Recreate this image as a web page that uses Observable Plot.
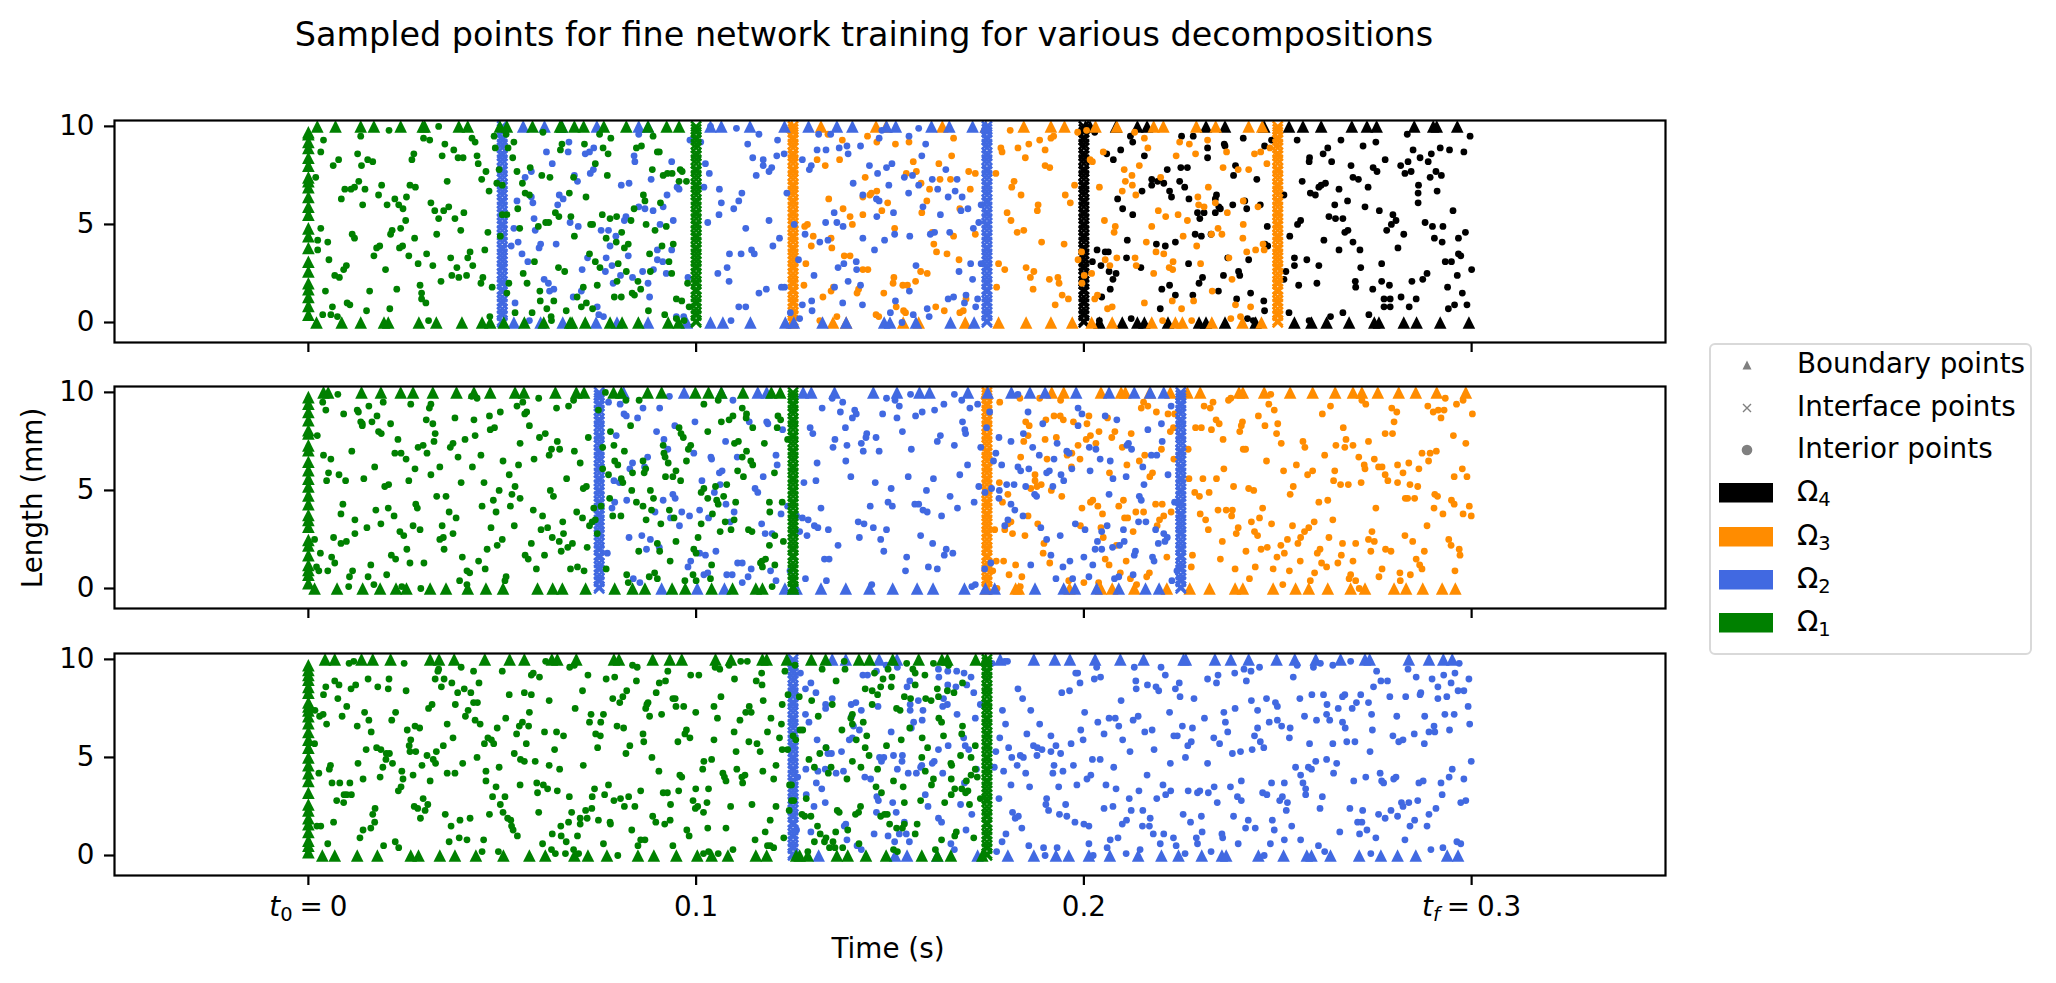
<!DOCTYPE html>
<html><head><meta charset="utf-8">
<script src="https://cdn.jsdelivr.net/npm/d3@7"></script>
<script src="https://cdn.jsdelivr.net/npm/@observablehq/plot@0.6"></script>
<style>
html,body{margin:0;padding:0;background:#fff}
#fig{position:relative;width:2056px;height:983px;font-family:"DejaVu Sans";overflow:hidden;color:#000}
#fig svg.panel{position:absolute;left:0;overflow:visible;background:transparent}
.lbl{position:absolute;white-space:nowrap;font-size:27.8px;line-height:1}
#legend{position:absolute;left:1709px;top:343px;width:319px;height:308px;border:2.2px solid #d9d9d9;border-radius:6px;box-sizing:content-box;background:#fff}
sub{font-size:70%;vertical-align:baseline;position:relative;top:.28em}
</style></head><body><div id="fig"></div>
<script>
// times are in milliseconds, lengths in mm; interior arrays are flat t,y,t,y lists
const colors={black:"black",orange:"darkorange",blue:"royalblue",green:"green"};
const p1GreenLeft=[9.7,9.6,9.2,8.9,8.4,8.0,7.4,7.2,6.9,6.4,5.9,5.5,4.8,4.4,3.8,3.1,2.6,2.0,1.7,1.3,.85,.4];
const p1GreenTop=[2.3,7,13.5,16.9,23.8,29.5,30,38.8,41.1,49.4,51.2,57.8,64.9,65.4,68.6,71,76.2,82,87.6,92.4,95.6];
const p1GreenBottom=[2.1,8.6,13.5,19.5,20.6,28.5,33,39.6,44.8,46.9,50.4,55.7,60.7,67.5,68,71.4,77.8,80.9,85.1,92.8,95.5];
const p1BlueTop=[55.4,60.9,65.4,74.4,85.2,87.6,103.7,106.5,113.9,122.8,129,136.3,140.3,149.1,151.5,160.7,165.3,171.3,174.7];
const p1BlueBottom=[53,59.9,65.6,74.2,79.6,87.6,97.6,103.7,106.9,114,123,125.2,132.6,138.7,148.5,150,156.7,165.6,171.7];
const p1OrangeTop=[124.7,132.2,146.4,149,163.5,174.7,184.5,191.5,195,203,208.5,218,220.5,229,234,242.5,246];
const p1OrangeBottom=[124.7,135.3,138.7,153.4,157.4,169.4,178,185.1,191.5,197,202,207.3,217.5,223.6,225.4,233,240.9,245.8];
const p1BlackTop=[200.4,201.6,208.3,213.8,216.3,231.5,236.4,246.5,252.9,256.5,261.2,269.1,273,275.5,285.2,290.1,291,296.3];
const p1BlackBottom=[204,209.9,213.8,215.6,221.7,229.7,231.5,236.4,244.3,254.3,258.7,262.6,268.4,274.9,276.1,282.5,285.8,291.9,299.3];
const p1Green=[3.9,9.3,3.2,8.7,1.9,7.4,7.8,8.3,6.4,8,13.5,9.5,12.7,8.6,15.3,8.3,16.6,8.2,13.7,8,20.8,9.8,33.6,10,29.7,9.4,31.3,9.3,35.2,9.1,37.5,8.8,34.5,8.5,27.2,8.6,26.7,8.3,38.6,8.4,39.9,8.4,42.2,9.4,43,9.2,43.5,8.5,43.8,8.1,47.9,9.5,48.2,8.9,45.8,7.7,44.7,7.3,49.2,7.8,48.6,7.1,46.6,6.7,50,7,35.8,7.2,26.2,7,27.6,6.9,18.9,7,13,7.2,11.9,6.9,11,6.8,9.4,6.8,14.6,6.8,8.5,6.3,18.1,6.5,25.3,6.4,22.3,6.3,20.3,6,23.3,6,24.4,5.8,14,6,31.6,6.1,32.6,5.7,34.9,5.7,36.2,5.9,33.6,5.3,37.8,5.3,40.1,5.6,25.1,5.2,23.8,4.8,39.3,4.7,21.6,4.7,21.2,4.5,33.1,4.5,46.3,4.6,49.5,4.4,50,5.5,51.2,5.5,3.2,4.8,2.4,4.2,5,4.1,2.4,3.7,11.3,4.5,11.9,4.3,27.4,4.3,18.4,3.9,17.6,3.8,24.3,3.9,23.5,3.8,16.9,3.4,25.9,3.4,30.5,3.5,28.3,3,32.1,2.9,36.7,3.3,41.7,3.6,41.1,3.3,45.5,3.7,42.4,2.9,38.3,2.8,5.3,3.2,9.8,2.9,9.1,2.7,19.9,2.7,6.8,2.4,8,2.3,37,2.4,38.8,2.3,40.8,2.4,34.2,2.1,45,2.3,44.5,2,47.4,1.8,28.8,1.9,29.2,1.5,29.2,1.2,30.3,1,22.8,1.7,15.8,1.6,4.4,1.6,51.2,1.5,6.2,.8,10,1,10.7,.9,21,.7,15,.6,3.7,.4,5.8,.4,7.5,.3,31,.1,46.8,.3,
53,9.2,52.7,8.4,53.8,7.7,57.2,7.9,55.2,7.1,60.2,7.5,62.3,7.4,60.5,9.7,65.4,9.1,65,8.8,71.2,9.1,76,8.9,77.3,8.6,74,8.1,68.4,7.4,77.1,7.5,84.6,8.9,85.9,9,78,9.4,88.9,9.5,90,8.7,90.5,8.7,88.7,7.8,91.5,7.5,92.6,7.6,93.8,7.6,95.9,7.8,96.4,7.7,95.6,7.2,97.5,7.2,75.1,9.6,55.9,6.6,57,6.5,67.3,6.6,71.6,6.4,86.4,6.5,86.8,6.2,84,5.8,90.8,6.1,54,5.8,63.7,5.6,64.6,5.4,67.7,5.4,75.8,5.5,77.8,5.3,79.5,5.4,83.2,5.2,54.5,4.8,59.3,4.9,61.2,5.1,62,5.1,72.8,5,73.3,5,87.1,5,89.4,4.7,92.3,4.9,68.6,4.4,80.8,4.6,76.8,4.3,79.4,4.1,82.5,4,81.5,3.8,94.1,4,91.2,3.9,88,3.5,72.5,3.5,74,3.1,58.3,3.1,64.5,2.8,66.1,2.6,75.2,2.8,79.9,3,82,2.6,93,3.1,88.2,2.6,93.7,2.5,55.4,2.5,56.4,2,79.6,2.1,85,2.1,97.8,2,51.7,2,74.5,1.9,70.9,1.8,85.7,1.7,59.7,1.6,69.3,1.3,78.9,1.3,80.7,1.3,83.5,1.5,84.1,1.4,63.3,1.1,59.8,1.1,94.9,1.2,96.3,1.1,98.2,.8,71.7,1,70.4,.8,73.3,.7,61.5,.7,66.5,.6,53.3,.5,57.7,.5,87.7,.6,91.9,.4,62.6,.3,62.7,.1,94.9,.2,96.9,.1,51,9.6,51.5,8.9];
const p1Blue=[67.2,9.2,61.4,8.7,67,8.7,62.9,8.1,71.4,8.6,72.5,8.7,73.6,8.9,85.2,9.6,84,8.5,84.2,8.2,93.7,8.2,57.5,7.7,55.9,7.4,73.5,7.8,72.7,7.6,69.4,7.2,68.6,7.5,80.7,7,82.7,7.1,88.4,7.3,95.1,6.9,95.6,6.8,92.5,6.5,57.5,6.4,53.8,6.2,64.7,6.5,65.7,6.3,64.3,6,57.9,6.1,85.2,5.9,86.8,5.8,88.9,5.7,91.5,5.9,58.2,5.3,67.5,5.1,69.6,4.9,81.9,5.4,81.5,5.2,94.1,5.2,90.7,5,53,4.8,58.5,4.7,75.5,4.7,77.4,4.7,79.3,4.4,54.1,4.1,52.3,3.9,63.9,4,59.9,4,59.5,3.8,55.1,3.5,77.8,3.9,93.7,3.7,90,3.7,82.5,3.4,72,3.3,76.8,3.3,90,3.2,91.4,3.1,56.6,3.1,78.3,2.9,70.6,2.7,76.6,2.6,89,2.7,86.2,2.6,92.3,2.5,97.9,2.3,80.5,2.4,83.6,2.3,60.8,2.2,61.9,2,78.6,2,87.6,2,62.2,1.6,63.3,1.7,70.4,1.6,68.3,1.3,88,1.3,53.3,1,74.5,.8,74.9,.4,76.1,.3,57,.1,94.9,.3,96.8,.3,103.7,10,110.4,9.9,98.4,9.3,101.2,9.2,102.4,8.1,103.4,7.6,102,6.9,106,6.8,106.5,6.1,109.7,5.8,111,6.2,105.9,5.5,103,5.1,108.6,3.5,108,2.8,105.6,2.5,108.5,2.1,111,.8,109,.1,
116.2,9.6,113.3,9.1,121,9.3,114.6,8.4,117.3,8.3,117.3,8,120.8,8.5,122.7,8.6,119.5,7.9,118.8,7.7,115.5,7.5,111.8,6.6,118.8,5.2,112.8,4.8,121.5,4.3,119.8,3.9,114.3,3.7,115,3.5,111.6,3.5,122.8,1.8,122,1.8,118.1,1.7,116.2,1.5,112.8,.8,123.4,6.6,125.3,5,128.1,4.5,126.4,3.2,130.4,2.4,127.4,.9,129.8,1.1,129.9,.6,126.7,.2,124.3,.5,131.6,9.6,134.7,9.6,127.4,8.3,131.2,8.8,133.5,8.8,136.9,8.9,138.9,9,139.2,8.6,142.4,9,147.9,9.8,147.2,9.4,154.9,9.5,129.7,8,129.2,7.8,144.7,8,146.8,7.6,149.1,7.9,150.5,8.1,140.5,7.1,149.7,7,143,6.5,146.5,6.3,147.2,6.2,153.7,7.4,155.8,7.5,154.8,6.6,157.4,7,158.2,8.5,157.4,9.9,159.2,9.1,164.4,7.8,160.9,7.3,162.3,6.8,167.3,7.3,166.8,6.7,165,6.4,168.6,6.4,158.5,5.9,135.6,5.6,163,5.5,170.1,5.8,168.3,5.7,173.5,6,146.6,5.4,150.9,5.6,133.4,5.1,136.3,5.1,137.9,4.9,143,4.3,151.2,4.5,148.6,4.2,155.1,4.4,146,3.7,161.5,4.6,160.4,4.5,165.4,4.6,171.5,4.8,172.9,5.1,134,4.2,131.9,4.1,141.3,3.1,138.1,3,136.6,2.8,141.4,2.7,156.7,2.9,170.8,3,167.8,2.6,173.5,3,171.3,2.2,139.2,2.1,142.4,1.9,135.7,1.8,155,1.6,137.8,1,142.9,.9,151.4,1.1,165,1.2,166.4,1.3,169.6,1.4,169.2,1,172.6,1.2,172.1,.8,159.6,.7,160.1,.3,156,.4,153.1,0,150.1,.5];
const p1Orange=[137.7,9.3,146.6,9.2,144.2,9.5,151.4,9.1,154.9,9.2,134,9.6,166.4,9.4,137,8.3,131.2,8.3,133.3,8,165.9,8.5,162.6,8.1,156,8.2,143.6,7.4,154.2,7.6,156.8,7.7,170.3,7.7,172,7.6,158,7.1,162.9,7.3,165.6,7.3,160.2,6.8,146.6,6.7,145.2,6.6,143,6.4,144.8,6.5,170.7,6.8,149.4,6.1,159.5,6.2,134.2,6.3,147.9,5.7,137.9,5.8,143,5.5,158.2,5.6,168,5.8,139.7,5.4,140.3,5,128.7,5,128,4.9,151.2,4.8,160.9,4.6,130.2,4.4,166.4,4.4,172,4.5,134.8,4.3,129.7,3.9,135,3.8,161.3,4,162,3.6,164.7,3.5,138.2,3.4,139.7,3.4,167.8,3.2,128.3,3,143,2.7,144.3,2.7,157.9,2.6,159.6,2.5,151,2.3,150.8,2,156.6,2.1,127.8,1.9,153.3,1.9,154.5,1.9,135.4,1.8,134.8,1.6,141.9,1.7,141.5,1.5,148.4,1.5,132.7,1.3,151.6,.8,161.8,.8,153.5,.6,154,.5,146.4,.4,147.1,.3,164,.6,168,.5,168.9,.6,131.9,.1,136.3,.3,169.6,1.2,
181,9.8,178.6,8.9,178.9,8.7,183,8.9,185.8,9.1,188.6,9.3,191.5,9.4,192.2,9.5,184.9,8.4,190,8.8,190,8,191.2,7.9,177.3,7.6,182,7.2,181.4,6.9,183.8,6.5,195.2,6.5,196.5,6.1,197.6,7,198.4,9.7,200.7,9.8,188.2,6,188,5.7,180.2,5.6,181.2,5.2,182.8,4.6,184.5,4.7,189.1,4.1,194.9,4,178,3,179.6,2.7,185.1,2.8,187.1,2.6,186.2,2.3,191.1,2.2,193.3,2.3,193.6,2,177.5,1.8,186.9,1.7,194.4,1.4,196,1.2,192.6,.9,199.4,3.6,198.5,3.2,199.5,2,200.1,2.4,202,2.5,
201.6,8.3,202.2,8.2,205,8.7,213.1,9.7,215.6,9.4,210.4,7.8,212.4,7.5,214.3,8,210.7,7.2,212.5,7,204,6.9,209.9,6.7,219.8,7.4,216.5,8.9,223.8,8.5,224.7,9.2,227.2,9.1,231.9,9.3,228.8,8.6,236.8,8.7,244,8.6,245.6,8.7,248,8.9,247.2,8.1,235.9,7.9,239.8,7.8,242.5,7.8,232.1,6.9,213.4,6.5,229.4,6.4,233.9,6.1,231,5.9,229.6,6,241.1,6.2,244.9,5.9,219.2,5.7,221.1,5.4,224.3,5.5,226.7,5.2,237,5.6,205.3,5.2,208.1,4.9,207.8,4.6,217.5,4.9,241.1,5,234.6,4.8,235.6,4.5,225.6,4.4,232.9,4.5,216.1,4.1,241,4.3,229.1,3.9,218.6,3.6,220.6,3.5,246.2,4,244.3,3.7,242,3.6,246.5,3.7,208.5,3.3,213.2,3.3,205.5,3.2,206.7,2.9,237.4,3.3,223,3.1,213.5,2.9,222,2.8,230.1,3,222.9,2.7,218,2.5,238.2,2.2,233.1,1.6,202.8,1.2,203.5,1.4,215.6,1,222.8,1.1,228.3,1.1,239.1,.9,243,.8,225.2,.7,207.3,.8,206.1,.7,237.9,.2,240.4,.3,220.3,.1,227.8,.1];
const p1Black=[202.8,9.7,212,9.5,212.6,9.2,225.2,9.5,228.2,9.5,241.1,9.4,248.4,9.3,236.2,9.1,236.4,9,246.6,9,231.9,8.9,209.5,8.8,205.9,8.6,207.6,8.3,215.6,8.5,231.9,8.4,239.1,8,221.5,7.8,225,7.9,226.7,7.9,238.6,7.5,244.6,7.3,217.5,7.3,217.5,7,219,7.2,220.6,7.1,224.7,7.2,226,6.9,215,6.7,222.1,6.7,222.6,6.4,208.7,6.3,234.2,6.5,227.1,6.3,233.9,6.3,238.4,6,241.5,6.2,245.5,6,210,5.8,212.6,5.5,229.3,5.6,231,5.6,234.8,5.9,235.2,5.8,242,5.8,233.9,5.6,229.9,5.3,247.3,4.9,228.7,4.5,230.3,4.4,232.8,4.5,211.2,4.2,223.6,4.1,218.7,4,221,3.9,246.7,4,247.4,3.9,203.4,3.7,205.5,3.6,206.3,3.6,211,3.3,237.1,3.3,242.5,3.2,202.2,3.1,204.4,2.9,206.5,2.6,208.3,2.5,214.7,2.8,227,3,207.5,2.2,206.8,1.7,230.6,2.3,236,2.4,239.9,2.6,240.2,2.4,229.7,2,222.1,1.9,220.1,1.7,223.6,1.4,228.1,1.4,234.7,1.6,243,1.5,204.6,1.3,239.4,1.2,246.4,1.1,219.7,.7,246.6,.6,204,.1,212.2,.2,242.2,.2,243.7,.1,
255,9.3,266.3,9.3,283.4,9.6,299.6,9.5,275.3,9.2,272,9,262.9,8.9,261.7,8.6,258.2,8.4,258.1,8.2,263.9,8.2,268.9,8,274.6,7.9,275.6,7.7,269.4,7.4,270.8,7.3,277.7,8.3,284.9,8.8,291.9,8.9,294.3,8.8,298,8.7,289.6,8.6,286.7,8.4,283.6,8.2,281.7,8,288.8,8.2,282.8,7.6,284.4,7.7,290.8,7.7,292.2,7.5,289.3,7.4,286.3,7,256.3,7.2,262.3,7.1,260.6,6.9,261.2,7,273.3,6.9,265.8,6.8,258.4,6.6,259.7,6.5,251.6,6.5,286.2,6.6,291.1,6.7,286.2,6.1,268,6.2,264.7,6,272.5,5.9,276.2,5.7,295.2,5.7,263.2,5.4,264.9,5.3,266.8,5.3,255.9,5.2,255.1,5,279.7,5.5,280.5,5.2,279.3,5,288,5.1,289.9,4.9,292.6,4.9,278.1,4.7,267.3,4.6,268.1,4.7,253.1,4.4,261.9,4.2,269.4,4.1,282.5,4.5,290.4,4.3,298.4,4.6,296.6,4.3,292.4,4.1,281,3.8,265.8,3.7,271.2,3.7,296.6,3.5,297.2,3.4,254.3,3.3,257.5,3.2,254.3,2.9,260.6,2.9,276.8,3,293.2,3.1,294.8,3.1,271.4,2.8,300,2.7,252.1,2.6,251.6,2.2,288.5,2.5,296.3,2.4,287.4,2.2,270,2.1,284.6,2.1,276.8,2.1,255.4,1.9,260.1,2,278.8,1.9,270.1,1.8,274.5,1.7,293.8,1.8,297.6,1.5,281.8,1.3,277.4,1.2,279,1.2,285.7,1.2,277.4,.8,279,.8,283.9,.8,294,.7,295.6,.9,298.8,.9,252.9,.5,266.8,.5,273.5,.4,263.6,.3,258.1,.1];

const p2GreenLeft=[9.76,9.42,9,8.58,8.07,7.9,7.3,7.05,6.46,6.03,5.6,5.2,4.75,4.3,3.75,3.5,3.15,2.47,2.2,1.7,1.2,.95,.7,.27];
const p2GreenTop=[3.9,5.1,13.7,18.7,23.8,27,32.1,38.2,42.7,46.9,53.3,55.6,63.7,69.1,71.1,78.7,80.7,87.5,91.1,99.8,103.2,106.5,112.1,119.4,121.7];
const p2GreenBottom=[1.6,7.4,14,18.5,22.6,25.3,31.4,35.5,41.1,45.8,50.2,59.1,63,65.5,71.5,79,83.6,86.8,93.8,97.2,104,109.4,115.4,117.1,125];
const p2BlueTop=[81.3,96.9,106.5,115.9,118.2,127.6,129.7,135.7,145.7,151.8,157.6,160.2,170.1,175.2,181.3,186.1,190,198,206.5,213,217.1,220.6];
const p2BlueBottom=[91.1,100.3,107.3,122.9,125.9,132.2,138.6,144.7,150.7,157,161.1,169.2,174.6,177,187.4,194.8,197.7,203.3,209,215.9,219.4];
const p2OrangeTop=[174.9,191.7,194.8,204.4,209.6,210.7,217,222.3,226.7,230,240,241,246.5,253.2,259,264.8,269.4,271.7,275.8,281.2,285.6,291,298.5];
const p2OrangeBottom=[174.9,182.4,183.2,196.3,204.4,207.3,213,221.4,227.3,232.4,239,241,248.8,254.6,258,262.9,268.8,272.5,280,283.1,287.4,292.4,295.8];
const p2Green=[7.6,9.9,3.7,9.5,4.5,9.1,2.3,7.8,9.1,8.9,12.6,9.1,12.9,9,19.3,9.5,15.6,9.3,17.7,8.8,16.4,8.5,13.5,8.5,13.9,8.4,13.9,8.3,21.2,8.4,18.1,8,18.8,7.9,26.4,9.4,31.6,9.4,31.2,9.2,30.4,8.6,32.1,8.4,32.7,7.9,32.4,7.5,23.1,7.6,37.8,8.7,42.7,8.6,46.7,8.8,49.5,9,43.5,9.7,42.1,9.8,53.8,9.3,55.3,9.5,55.8,8.9,56.3,9,59.4,9.7,64,9.2,67.1,9.3,68.4,9.6,57,8.3,46.9,8.1,48,8.2,43,7.8,40.4,7.6,61.1,7.9,59.6,7.7,54.6,7.4,64.2,7.5,72.2,7.7,62.7,7.1,64.8,7.1,68.6,7,62.1,6.8,58.2,6.6,28.3,7.2,29.6,7.3,30.6,6.9,37.3,7.4,36.6,7.2,11.2,7,22.3,6.9,23.9,6.9,25.2,6.6,38.6,6.7,44.5,6.8,3.9,6.8,5.8,6.6,50.2,6.5,54.2,6.3,70.1,6.4,42.3,6.2,33.9,6.2,27.5,6.1,17.1,6.2,5.2,5.9,7.9,5.8,4.7,5.5,9.6,5.5,14.3,5.6,25.9,5.5,31.6,5.8,51.8,5.8,66.6,5.6,39.4,5.4,45.3,5.4,19.7,5.2,20.7,5.3,53.3,5.2,49.2,5,62.4,5,71.7,5.2,70.9,5.1,52.5,4.8,63.2,4.7,33.1,4.7,35.5,4.7,47.7,4.5,54.6,4.6,8.9,4.3,27.7,4.3,28.1,4.1,44.8,4.2,52.1,4.2,20.6,4.1,17.4,4,8.4,3.8,36.3,3.9,48.4,3.9,58,4,69.2,3.9,22.1,3.7,38.1,3.6,60.4,3.7,70.7,3.6,73.6,4.1,12,3.5,65.6,3.4,18.7,3.3,27,3.2,34.5,3.2,72.5,3.2,73.2,3.4,74,3.5,15.1,3.1,28.8,3,47.1,3.1,53.1,3.2,60,3,61.7,3.1,23.6,2.9,12,2.8,24.6,2.7,37.3,2.8,34.8,2.6,33.9,2.5,65.8,2.8,74.5,2.8,6.5,2.6,62.9,2.6,50,2.5,48.7,2.2,64.7,2.4,9.8,2.4,8.4,2.3,1.6,2.5,57.5,2.3,68.1,2.3,66.9,2.1,71.9,2.1,35,2,25.4,2,46.1,2,65.2,1.9,3.1,1.8,21.4,1.7,6,1.6,55.9,1.7,60.9,1.7,22.5,1.5,39.7,1.6,56.7,1.5,43.9,1.4,6.8,1.3,26.2,1.3,29.8,1.3,16.1,1.2,2.1,1.1,2.7,.9,5,.9,11.4,.9,10.6,.6,45.6,1,58.8,1,67.6,1,69.4,1.1,71.1,.9,76.8,1,40.9,.9,41.6,.8,20.2,.7,15.4,.6,51,.6,50.7,.4,16.9,.2,39,.4,40.9,.2,10.4,.1,29,0,24.1,.1,
76.6,10,81.9,9.6,85.3,9.6,74.8,9.1,77.9,8,83.1,8.3,75.9,7.2,78.8,7.3,81.5,7,91.5,7.3,95.6,8.2,96.1,7.9,96.7,7.7,91.7,6.9,98.6,7.3,98,7.1,92,6.7,92.8,6.4,86.3,6.5,97.5,6.5,79,6.5,79.8,6.3,75.9,6.1,87,6.1,86.6,5.9,94.8,6,83.6,5.9,77.4,5.8,80.7,5.6,81.1,5.4,92.1,5.7,94,5.7,96,5.5,83.4,5,88.2,5,89,4.6,77.7,4.6,84.6,4.4,86.3,4.2,75.5,4.2,88.5,4,93.1,4,94.3,3.6,78.5,3.7,80.6,3.7,87.1,3.5,90.9,3.3,102,9.4,105.7,9.6,111.9,9.2,113,8.9,109.5,8.8,108.5,8.6,106.5,8.5,112.9,8.7,114.6,8.2,103,8,121.1,8.8,121.8,8.6,120.9,8.2,123.6,7.6,117.6,7.4,109.9,7.4,110.9,7.5,113,7,111.9,6.7,114.1,6.5,114.6,6.3,110.7,6,112.2,5.7,120.2,5.9,101.3,4.9,102,5.1,103,4.6,105,5.2,107.9,5.3,107.1,4.7,105.3,4.5,105.7,4.3,110.2,4.4,118.9,4.4,122.2,4.4,119,3.9,104.2,3.8,101.3,3.3,107.5,3.4,109.8,3.5,106.2,2.9,109,3,113.5,3,114.4,2.9,100.5,2.6,94.8,2.4,90,2.3,99.4,2,100,1.8,85.2,1.9,90.6,1.9,120.3,2.7,122.5,2.4,118.9,2.2,93.3,1.4,117.9,1.5,117,1.4,116.6,1.3,117.1,1.1,104,1.2,120.3,1.2,99.2,.7,82.1,.7,100,.4,103.7,.5,97.1,.4,82.5,.3,87.9,.6,89.3,.8,90,.5,119.6,.1];
const p2Blue=[77.4,9.5,80.4,9.4,93.1,9.8,86.3,9.2,90.6,9.2,81.4,8.9,82,8.8,84.9,8.7,99.7,8.5,109.5,9.6,113.7,8.5,118.2,8.5,118.5,8.4,122.3,8.1,89.8,8,79.4,7.8,94.5,8.3,91.7,7.6,107.6,7.5,92.7,7.1,99.4,6.9,87.5,6.7,103.8,6.7,104,6.6,110.6,6.7,120.6,6.8,120.9,6.3,83.6,6.4,82.9,6.1,86.7,6.2,106,5.9,106.7,6,117.3,5.7,101.5,5.5,106.2,5.3,78.8,5.5,80.2,5.4,115.2,5.1,115.9,4.9,104.7,4.9,94,4.8,94.6,4.6,91.5,4.5,82.1,4.5,79,4.4,78.3,4.1,107.7,4.3,123.6,4.2,89.4,3.9,100.9,4,96.3,3.9,109.8,3.9,121.9,3.8,103.2,3.6,93.4,3.6,98.3,3.7,95.7,3.2,108.8,3.4,116.9,3.3,117.8,2.8,119.6,2.8,82.7,2.6,86,2.7,88.2,2.5,87.2,2,90.5,2.1,100.9,1.8,102.4,1.7,105.1,1.9,77.1,1.8,98.6,1.4,110.7,1.3,111.9,1.3,97.9,1.1,114.2,1,119.2,.9,103,.8,102,.7,107.9,.7,109.3,.7,113.4,.6,124.2,.9,111.9,.3,83.8,.5,85.5,.3,120.6,.4,
135.1,9.7,137.8,9.5,132.5,9.2,137.2,9,140.9,9.1,141.3,8.9,140.3,8.7,148.1,8.9,151.8,8.7,149.1,9.7,151.3,9.6,152.4,9.3,155.3,9.9,166.6,9.9,168.5,9.6,170.6,9.2,172.6,9.4,163.9,9.4,161.5,9.1,158.3,9,156.6,8.8,168.7,8.5,129.4,8.2,130.1,7.9,138.5,8.2,144,7.9,146.4,7.7,143.8,7.7,153.2,8,163,7.8,162.2,7.5,169.3,8.1,169.5,7.9,174.9,8.2,135.8,7.6,135.3,7.2,138.9,7.3,142.6,7.4,143.1,7,147.2,7,155.5,7.1,166.6,7.3,138.6,6.5,131.2,6.4,170,6.3,173.4,7.2,139.9,5.7,127.8,5.4,130.9,5.5,146.2,5.4,154.7,5.7,161.2,5.6,168,5.8,150.3,5.1,159.4,5,165.5,4.7,172.9,5.2,171.7,4.4,144.9,4.2,149.5,4.4,150.6,4.2,156.4,4.3,157.4,4.3,167.4,4.1,158.5,4,159.6,3.9,163.3,3.7,132.2,4.1,125.9,3.7,127.4,3.6,128.9,3.5,130.5,3.2,131.4,3.1,134.1,3,141.8,3.4,143.3,3.3,145.7,3.1,149.1,3,126.7,2.9,128.6,2.7,142.1,2.6,157.9,2.7,147.6,2.5,136.6,2.2,161,2.3,148.4,1.9,164.5,2,164,1.7,166.2,1.8,154.3,1.6,133.1,1.5,134.3,1.5,159.9,1.1,162.2,1,154,.9,128.2,.5,133.6,.4,145.3,.2,171.1,.1,172,.2,
175.7,9,178.1,7.7,181.2,7.5,186.8,7.2,185.6,9,183,9.9,184.4,7.9,189.4,8.4,177.3,6.9,176.7,6.5,178.8,6.3,183,6.2,183.7,6,185.8,6.1,188.5,6.8,192.3,6.6,193.1,7.4,190.4,5.9,191.1,6,194.1,5.8,194.8,5.5,195.6,7,196.2,6.9,198.5,9.2,199.5,8.9,198.5,8.3,201.4,7.2,203.1,7.1,205.5,8.8,208.5,8.6,196.9,6.1,201.6,6,204.2,6.6,206.8,6.5,207.5,5.6,210.9,5.7,211.5,7.4,211.1,7.3,212.3,7.1,216.5,8.1,220,8.4,220.2,7.5,222.5,9.3,217.4,6.8,218.8,6.8,215.2,6.2,221.7,5.8,215.5,5.3,206.5,4.8,214.3,4.7,214.8,4.5,223.4,4.4,180.1,5.3,182,5.3,176.2,5.1,178.2,5,174.5,4.9,185,5.2,192,5.2,187.3,4.8,187.8,4.7,178.1,4.6,181.2,4.3,182.2,4,184.3,3.7,180.4,3.5,179.6,3.2,188.9,3.1,197.8,3.3,200.3,3,206,3.2,204.6,2.9,214.1,3.4,216,3.4,218.5,3,220.6,2.8,210.2,3,193.9,2.7,190.4,2.5,203.5,2.4,202.9,2,204.6,2,207.4,2.1,209.2,2.2,210.4,2.4,213.3,1.9,221.5,2.6,220.9,2.4,219.2,2.3,213,1.7,191.5,1.7,200,1.6,217.7,1.6,218.1,1.4,186.3,1.2,196.4,1.4,194.6,1.1,202.3,1.2,176,1.3,174.4,1,201.3,.6,192.8,.5,197.1,.5,207.9,.5,209,.6,212.7,.7,222.7,.4,224,.9];
const p2Orange=[178.3,9.5,183.5,9.7,188.6,9.7,194,9.6,215.4,9.5,214.8,9.2,216.5,9.3,218.7,9,221.7,8.9,223.4,8.9,223.1,8.2,222.3,8,185,8.5,185.9,8.3,190.2,8.6,192.3,8.8,193.9,8.8,194.7,8.6,197.3,8.5,200.8,8.4,201.3,8.8,206.1,8.7,203.9,8,208,8,207.2,7.7,212.2,7.9,185.6,7.8,184.5,7.5,190,7.6,192.9,7.7,198.5,7.3,200.6,7.6,201.7,7.8,203.1,7.4,209.9,7.2,220,7.1,195.7,6.8,196.9,6.9,183.7,6.7,190.5,6.6,199,6.6,215.7,6.8,214.3,6.5,211.1,6.3,223.2,6.6,196.8,6.2,187.4,5.8,187.4,5.5,206.6,5.9,217.7,5.9,217,5.7,178.2,5.4,186.3,5.1,187.9,5.2,189,5.3,191.6,5,180.4,4.8,194.3,4.7,179,4.4,202.3,4.5,201.7,4.4,210.2,4.5,209,4.2,203.6,4.2,199.5,4.1,218.5,4.3,220.2,4.3,204.8,3.8,213.4,3.9,215.4,3.9,222.5,3.9,210.5,3.6,211.3,3.6,220.6,3.7,219.5,3.5,185.6,3.7,180.4,3.3,181.2,3.4,188.1,3.3,199.1,3.2,204.4,3.1,218.9,3.2,177,3,179.6,3,181.6,2.8,184.8,2.7,205,2.6,212.7,2.9,189.7,2.3,208.4,2.2,189.5,1.8,205.5,1.5,210.9,1.4,221.4,1.6,177.4,1.4,179.3,1.4,182.4,1.2,191.2,1.3,206.5,1.2,176.5,.9,180.7,.7,184,.6,209.4,.8,216.2,.6,216.9,.8,196.1,.4,212,.5,200,.3,213.6,.2,203.8,.3,183.6,.1,177.6,0,
233.3,9.5,231,9.3,232.6,9.2,237.3,9.6,237.9,9.7,247.7,9.4,249.1,9.1,248.2,9.9,261.5,8.9,263.6,9.3,271.7,9.6,272.7,9.4,279.4,9.2,280.7,9,288.7,9.3,290.1,9,291.4,9.1,292.9,9.1,293.2,9.7,292.1,8.7,296.1,9.4,297.8,9.6,300.2,8.9,245,8.8,234.1,8.6,234.9,8.4,228.8,8.2,230.3,8.2,232.9,8.1,240.9,8.5,240.6,8.3,240.2,8,246.7,8.3,250,8.4,249.7,7.9,235.9,7.6,250.9,7.4,256.5,7.5,257,7.2,266.9,8.2,267.6,7.6,280,8.5,279.6,7.9,277.7,7.9,295.3,7.8,298.5,7.4,273.4,7.5,265,7.3,267.3,7.2,269.4,7.3,241.1,7.1,241.7,7.1,226.9,7.1,262.1,6.8,287.2,6.9,289.3,6.9,290.9,7,270.9,6.7,274.9,6.6,288.9,6.5,247.1,6.5,283.8,6.4,280.9,6.3,254.8,6.3,236.1,6.1,272.3,6.3,272.5,6.1,276,6.2,276.9,6.2,251.5,6,259,6,264.7,6,257.7,5.8,286.4,6.1,282.3,5.9,277.7,5.8,297.6,6.1,295.5,5.7,298.8,5.7,227.1,5.6,230.7,5.6,234.2,5.6,278.4,5.5,264.4,5.5,266.2,5.3,268.2,5.3,271.5,5.4,280.9,5.4,284.1,5.3,286.1,5.2,238.6,5.2,242.5,5.1,243.8,5,254,5.2,253.2,4.8,228.6,4.9,229.8,4.7,232.3,4.9,290.5,4.8,291.2,4.7,282.9,4.6,283.5,4.6,285.3,4.6,262.9,4.5,260.6,4.4,294.8,4.5,295.5,4.3,290.3,4.1,299.4,4.2,275.3,4.1,234.6,4,236.7,4,238.3,4,238.1,3.7,246.1,4.1,230,3.8,292.6,3.8,297.8,3.8,299.9,3.7,231.4,3.5,245.3,3.6,243.2,3.4,264.2,3.5,248.4,3.3,253.8,3.2,259.4,3.4,288.5,3.2,239.8,3.1,232.1,3,239.3,2.8,244,2.9,244.8,2.7,258,3.1,256.9,2.9,274.3,2.9,282.8,2.7,255.9,2.6,252.5,2.5,263.2,2.6,273.4,2.5,274.9,2.4,284.8,2.4,294.1,2.5,235.7,2.4,250.8,2.2,255.2,2.3,266.7,2.3,270.1,2.3,294.7,2.2,296.8,2,241.8,1.9,245.7,2,247.3,2.1,260.9,2,274,1.9,277.8,2,279.2,1.9,287.8,1.9,260.2,1.8,228,1.7,251.7,1.8,249.8,1.6,266.4,1.7,297,1.7,285.7,1.5,235.2,1.5,255.8,1.4,269.4,1.4,265.5,1.3,261.3,1.3,262.6,1.1,286.6,1.2,287.2,1,227.7,1.1,239,1,244.2,1.1,248.8,1,253,.9,259.5,.8,276.9,1,281.5,.8,295.7,.9,268.8,.7,268.4,.5,276.1,.6,284.2,.7,242.7,.5,258.4,.4,270.1,.4,281.6,.4,251.3,.2,271,0];

const p3GreenLeft=[9.7,9.46,9.2,8.96,8.6,8.3,7.8,7.6,7.4,7.1,6.75,6.3,5.9,5.5,5,4.6,4.2,3.8,3.2,2.6,2.3,1.9,1.6,1.2,.76,.5,.17];
const p3GreenTop=[4.3,6.8,13.7,16.6,21.2,31.4,33.7,37.6,45.5,51.9,55.7,62.8,64.2,69.1,78.8,80.1,88.8,93.2,96.3,105,109,117.1,118.2,123.4,129.7,133.4,142,144.7,150.7,157.4,163.4,164.8,172.1,174.7];
const p3GreenBottom=[3.6,6.8,12.6,17.8,26.4,28.4,33.9,37.8,43.2,50.3,57,61.1,68.6,72.1,77,85,89.1,94.9,100.3,104,108.2,115.4,118.2,126.7,125.8,128.8,136.3,139.1,143.8,149,158.2,162.2,165.7,173.8];
const p3BlueTop=[135.1,138.6,147.2,151.8,178.4,187.1,192.5,196.4,202.9,209.4,215.4,225.7,226.3,233.8,237.9,242.5,249.7,254.4,259.8,266.2,272.5,273.7,283.8,289,292.7,295];
const p3BlueBottom=[131.6,151.3,154.4,162.2,172.6,180.4,187.1,192.8,196.1,201.3,206.7,214,220,224.4,230.4,235.6,236.7,245,251.5,257.5,258.7,263.6,271,276.6,280.9,285.6,293.7,296.5];
const p3Green=[10.5,9.8,11.7,9.9,24.7,9.8,33.6,9.5,33.4,9.4,39.4,9.6,42.6,9.4,50,9.4,61.2,9.9,67.4,9.6,68.6,9.7,83.6,9.7,84.8,9.6,106.1,9.5,104.9,9.6,108.5,9.7,109,9.9,111.5,9.9,113.2,9.9,116.9,9.3,92.7,9.4,98.6,9.2,100.7,9.2,72.1,9.2,57.5,9.2,58,9.3,59.6,9.1,79,9.1,76.8,9,84.6,8.9,109.9,9,115.5,8.9,117,8.7,122.9,9.4,90.5,8.8,92.1,8.9,15.4,9,20.8,9,6.8,8.9,7.9,8.7,12.2,8.7,11,8.5,4.5,8.6,17.9,8.6,20.6,8.5,25.2,8.4,32.7,9,35,9,34.3,8.6,37,8.8,38.5,8.3,40.2,8.5,41.9,8.3,44,8.8,70.7,8.4,82.1,8.4,3.9,8.2,7.6,8,51.8,8.2,55.7,8.3,57.5,8.2,89.7,8.3,81.1,8.1,78.5,8,80.3,7.8,106.4,8.1,94,8,94.6,8,117.3,7.9,123.7,8.2,62.1,7.9,42.6,7.8,43.6,7.8,31.9,7.7,31,7.5,37.9,7.7,87.6,7.8,87.3,7.7,87,7.5,94.8,7.6,96.8,7.6,104.6,7.6,113.7,7.6,122.2,7.7,9.9,7.6,1.7,7.4,14.5,7.3,22.5,7.3,3.8,7.2,2.9,7.1,8.7,7.1,41.2,7.4,57,7.3,68.8,7.5,88,7.1,91.1,7.2,99.9,7.3,72.9,7.2,76.1,7.2,112.8,7.3,114.2,7.3,40.5,7.1,50.9,7,105.5,7,111.3,6.9,119.3,7,15.6,6.9,21.5,6.9,43,6.9,55.2,6.8,72.5,6.8,75.4,6.8,4.7,6.7,44.3,6.7,35.8,6.7,27.5,6.6,12.6,6.6,54.4,6.6,56.8,6.6,79.6,6.6,81.3,6.5,122,6.7,28.7,6.5,25.5,6.4,48.7,6.5,16.2,6.3,53.7,6.2,60.9,6.3,64,6.3,65.8,6.1,74.1,6.2,75.3,6.1,86.3,6.2,97.5,6.4,97.1,6.2,109.8,6.3,118.4,6.3,121.5,6,98.4,6,104.6,5.9,37.3,6,46.3,6,47.2,5.9,47.8,5.7,26.4,5.9,26,5.6,56.2,5.7,45.4,5.7,34.8,5.6,1.6,5.7,86.5,5.8,95.3,5.8,113.6,5.8,115.7,5.7,63.5,5.4,74.6,5.5,82.9,5.6,14.9,5.4,17.6,5.5,18.7,5.4,26.2,5.3,27.7,5.3,33,5.3,110.3,5.3,116.5,5.3,122.2,5.4,123.6,5.4,20.1,5.2,20.9,5.2,30.6,5.1,53.1,5.2,81.9,5.2,43.5,5,20,4.9,32.2,4.9,88.6,5,54.7,4.9,55.7,4.8,58.5,4.8,32.8,4.7,21.7,4.7,102,4.8,104,4.9,12.8,4.7,5.7,4.6,39.8,4.7,29.3,4.6,62.1,4.6,70.9,4.6,120.6,4.6,19.2,4.5,5.4,4.4,49.2,4.5,64.8,4.4,101.7,4.4,110.5,4.4,2.7,4.2,24.1,4.3,45.8,4.3,35.8,4.2,37.8,4.2,90.4,4.3,106.9,4.2,117.2,4.3,27,4.1,95.8,4.1,96.3,4,107.3,4,112.6,4.1,111.8,4,14.1,3.9,18.5,4,24.4,3.9,31.4,3.8,107.7,3.8,120,3.9,45.8,3.8,6.1,3.7,8.1,3.7,10.7,3.7,58.9,3.7,112,3.7,124.6,3.6,54.6,3.6,60.6,3.6,77.4,3.6,48.4,3.5,61.7,3.4,23.9,3.5,73.8,3.4,99.9,3.4,103.2,3.4,23.2,3.3,64.2,3.3,85.7,3.3,95.5,3.3,9.9,3.1,11.1,3.1,9.2,3.1,59.1,3.2,91.5,3.2,92.6,3.2,76.4,3.1,47.5,3,50.7,3,67.3,3,73.2,3,80.5,2.9,82.6,3,29.6,2.9,78.8,2.8,125.2,2.8,7.3,2.8,9.1,2.7,30.8,2.6,27.3,2.5,28.2,2.4,49.5,2.6,93.4,2.6,99.2,2.8,102.8,2.7,108.9,2.5,114.4,2.6,120.6,2.5,17.2,2.4,30.1,2.3,81.5,2.5,84.2,2.5,100.4,2.5,99.8,2.4,73.1,2.4,124,2.3,16.6,2.1,35.3,2.1,50.2,2.2,59.4,2.2,46.7,2.1,67.9,2.2,71.5,2.3,101.9,2.2,51.4,1.9,28.9,1.9,41.7,1.9,39.1,1.8,70.1,1.9,71.9,1.9,88.8,2,119.1,1.8,6.5,1.7,17.1,1.7,52.2,1.8,67.1,1.7,70.1,1.6,74.8,1.8,77.8,1.7,89.6,1.7,93.3,1.8,91.9,1.6,36.8,1.5,2.2,1.5,3.2,1.5,16.1,1.4,52.4,1.5,65.1,1.5,77.9,1.6,14.1,1.3,52.8,1.3,83.4,1.3,103,1.4,107.7,1.4,97.6,1.3,62.9,1.1,53.9,1,65.2,1,69.4,1,98.2,1,117.8,1.2,13.3,.9,38.9,.9,40.9,.8,45.2,.8,85.7,.8,86.8,.8,36.3,.7,22.4,.7,66.5,.7,115.2,.8,122.6,.9,5,.6,19.4,.5,60.4,.6,76.1,.6,85,.5,94,.5,23.3,.4,62.7,.3,68.4,.3,118.4,.5,119.1,.5,120,.4,44.8,.2,49,.2,109.5,.3,63.7,.1,66.3,.1,69.7,.1,79.8,0,101.9,.1,103.2,.2,105.7,.1,
125.5,9.7,132.5,9.5,138.2,9.9,138.4,9.5,146,9.3,149.5,9.5,154.3,9.8,155.9,9.5,156.5,9.3,161.2,9.8,148.2,9,150.5,9.1,136.1,8.9,159,9.2,165.1,9.7,168.7,8.8,147.6,8.6,150.3,8.6,143.6,8.5,145.4,8.4,156.5,8.7,162.2,8.5,164.8,8.4,166.5,8.3,146.8,8.2,153.7,8.1,162.5,8.1,126.6,8.1,155.3,8,159.2,8,160.6,7.9,129.8,7.9,135.1,7.7,145.4,7.7,151.7,7.5,152.6,7.4,131.5,7.1,140.3,7.2,139.9,7,140.3,6.7,143.1,6.8,162.6,7,163.3,6.8,155.1,6.5,168.7,6.6,126.8,6.4,127.5,6.4,137.6,6.4,125,6.1,125.7,5.9,144,6.1,141.3,5.9,152.9,5.9,158.3,6,163.8,6.1,168.5,6.2,133.5,5.5,143.6,5.5,149.1,5.6,159.7,5.5,172,5.6,131.9,5.2,144.6,5.1,129.1,4.9,168.2,5.1,170.9,5,140.3,4.8,158.2,5,130.5,4.5,134.8,4.5,142.5,4.5,146.8,4.4,165.7,4.7,165.9,4.6,159.1,4.3,172,4.4,134.1,4.2,138.9,3.9,161.2,3.9,170.9,4.1,165.8,3.9,169.7,3.8,150.9,3.8,172.5,4,146.4,3.5,160.7,3.6,153.4,3.5,166.7,3.4,168.5,3.4,170.1,3.3,169.5,3.2,124.1,3.6,147.8,3.2,165.8,3.1,173.3,2.9,124.6,2.8,128.4,2.9,153.7,2.7,157.9,2.8,164.1,2.7,170.5,2.6,136.4,2.3,136.9,2.2,142.4,2.5,141.9,2.2,141.1,2.1,149.3,2.1,148.6,2.1,147.6,2,127.3,2.1,128,2,129.6,2,149.9,1.6,153.7,1.6,157,1.6,131.3,1.5,151.7,1.4,153.2,1.4,156.5,1.1,139.1,1.3,136,1.2,132,1.1,133.5,.9,167.1,1.2,166.7,1,171.6,.9,130.5,.7,133.1,.7,135.3,.7,142,.6,163.3,.8,135.8,.4,134.4,.4,137.8,.4,161.7,.3,150.9,.3,151.9,.2,128.8,.2];
const p3Blue=[126.9,9.3,129.6,8.8,128.2,8.5,130.9,8.3,135.1,8,133.4,7.7,133.4,7.5,128.2,7.2,129.1,6.8,143,9.2,144.2,9.2,146.5,9.4,149,9.7,151.9,9.6,155.1,8.9,154.4,8.6,162.5,9.5,164.9,9.4,167.2,9.4,169.1,9.3,170.9,9.1,164.9,8.7,162.6,9.1,169.8,8.7,171.6,8.3,167,8.6,140,7.7,141.2,7.8,146.9,7.6,155.2,7.7,157.3,7.9,163.8,8,163.6,7.6,164.8,7.7,173.3,7.7,142.6,7.4,155.2,7.4,158.5,7.4,167.3,7.2,140.1,7.1,158.3,6.9,156.1,6.8,172,7,140.6,6.6,142.1,6.4,155.5,6.5,150.3,6.3,131.2,5.9,139.5,5.9,140.3,6,169,6,133.5,5.5,134,5.2,134.9,5.2,137.5,5.3,169.4,5.6,170.3,5.4,165,5.6,162.5,5.4,147.3,5,148.4,5,150.9,5.1,153.2,5.1,153.1,4.8,147.8,4.8,158.2,4.6,161.4,4.8,128.3,4.4,131.4,4.3,133.3,4.4,136.1,4.2,138,4.3,126.2,4,151.9,4.4,157.9,4.5,160.9,4.7,154.7,4.2,156.8,4.2,163.6,4.2,143.5,4,145,3.9,131,3.7,132.4,3.4,169.2,3.7,172.3,4.4,146.6,3,147,2.8,150.7,2.7,159.1,3.1,128.4,3.1,130.4,2.5,133.3,2.7,159.8,2.5,168.2,2.6,146.5,2.2,151.6,2.2,171.1,2.1,162.5,1.9,163.3,1.7,138.6,1.6,138.2,1.5,153.7,1.7,169.6,1.3,125.9,1.3,129.6,1.2,145.9,1.1,149.5,1,152.4,1.1,154.2,1.1,138.9,.8,155,.7,151.2,.7,165.7,.6,141.5,.5,142.6,.3,166.6,.3,
176.3,9.8,180.3,9.9,179.6,9.9,203.3,9.6,213,9.6,219.9,9.6,221,9.2,198.4,9.3,197.9,9.3,255,9.7,259.2,9.6,241.3,9.5,243.1,9.4,245.3,9.6,261,9.8,264.2,9.7,268.8,9.9,296.8,9.8,283.6,9.5,275.5,9.4,295.7,9.3,292.8,9.2,285.7,9.1,289.8,9,238.9,9.3,234.6,9.2,231.9,9,241.9,8.9,254,9.1,202.7,9,204.3,9.1,213.4,8.9,234.2,8.8,224.6,8.8,199,8.8,216.4,8.7,213.5,8.5,223.6,8.5,218.6,8.6,219.3,8.4,183,8.5,196.3,8.4,194.3,8.3,276.6,8.9,278.3,8.9,274.7,8.6,291.3,8.6,294.7,8.8,299.3,9,296.5,8.4,298,8.4,286.9,8.3,286.7,8.2,267.3,8.2,266.7,8.1,271.4,8.2,261.8,8.2,258.8,8.2,255.7,8,224.8,8.1,228.4,8,278.9,8.1,283,8.1,293.6,8.1,291.3,8,184.2,8,209.6,7.9,243.2,7.9,247.1,8,249.4,7.8,270.3,7.8,273.4,7.8,262.7,7.7,249.9,7.6,265.6,7.5,269.2,7.5,299.1,7.6,239,7.5,244.8,7.4,186.3,7.4,236.1,7.3,179,7.4,222.1,7.3,200.2,7.3,262.6,7.2,274.2,7.2,293.1,7.2,295.5,7.2,287.9,7.1,280.7,7.1,214,7.1,206.5,7,208.1,7,212.7,6.9,231.1,7,256.9,7.1,260,6.9,263.4,6.9,249.9,6.9,247.8,6.8,236.5,6.8,203.6,6.8,188.6,6.7,179.8,6.7,266.7,6.8,299.5,6.7,209,6.6,225.4,6.6,228,6.5,244.8,6.5,251,6.6,253.2,6.5,267.4,6.5,290.3,6.6,199.2,6.4,274.4,6.4,217.6,6.4,215.7,6.3,237.1,6.3,285.2,6.2,289,6.3,290.5,6.3,294.3,6.4,185.3,6.2,191.5,6.1,205.2,6.2,224.1,6.1,223.2,6.1,233.5,6,244,6.1,253,6,178.3,6,199.8,5.9,210,5.9,279.7,6.1,281.2,5.8,282.3,5.9,245.5,5.8,267.8,5.8,269.9,5.8,227.7,5.8,287.8,5.7,226.8,5.6,235,5.7,246.4,5.5,258.2,5.7,264.2,5.7,187,5.6,188,5.5,192.8,5.6,196.7,5.7,180.6,5.5,189.2,5.4,191.5,5.3,194,5.2,187.9,5.1,177.3,5.3,211.9,5.3,218.1,5.4,240.4,5.3,238.3,5.2,243.4,5.4,273.8,5.3,181.4,5,183.6,5.1,184.4,5,226.2,5,202.2,4.9,204.2,4.9,259.8,4.8,262.6,4.9,265.2,4.7,299.9,4.8,182.8,4.6,192.3,4.6,197.3,4.6,222.3,4.7,231.9,4.7,254.6,4.5,257.9,4.5,207.7,4.5,176.9,4.5,179.3,4.3,185,4.2,192,4.2,194.6,4.3,258.7,4.4,295,4.4,255.9,4.1,264.4,4.2,201.8,4.1,216.3,4.1,200.8,3.9,272.7,4,269.6,3.8,276.4,4.2,276.8,3.8,277.3,3.7,279.9,3.9,280.5,4,286.4,3.7,287.5,3.8,294.2,4,298,3.9,240.6,3.8,256.5,3.7,181.2,3.6,186,3.5,193.5,3.5,198.2,3.6,205.7,3.6,208.3,3.4,220.4,3.6,233.6,3.5,237.8,3.5,248.4,3.7,251.7,3.7,292.1,3.7,214.2,3.3,226.9,3.3,222.4,3.3,229.9,3.3,229.3,3.2,232.1,3.2,246.1,3.2,247.2,3.1,221.1,3.1,257.2,3.4,257.2,3.1,261.5,3,292.4,3.1,239.6,3,211.7,2.9,218.8,2.9,240.6,2.8,251.2,3,250.5,2.8,178.1,2.9,190.4,2.9,234.4,2.7,252.5,2.7,297.2,2.7,298.5,2.8,283.8,2.7,286.1,2.8,281.9,2.7,282.3,2.5,190.2,2.6,195.3,2.6,190.9,2.3,205.2,2.4,207.5,2.5,252.2,2.3,260.9,2.4,268.6,2.4,271.9,2.3,290.8,2.4,181.6,2.2,212.2,2.3,215.2,2.3,279.2,2.3,289,2.1,276,2.1,277.7,1.9,280.9,2,183.1,2,182.3,1.9,193.7,2.1,195.6,2,225.6,2.1,230.3,2,238.6,2,217.1,1.9,197.7,1.7,200,1.6,201.3,1.5,211,1.8,209.9,1.6,227.5,1.7,242.4,1.8,248.6,1.8,270.6,1.7,271.7,1.7,285.3,1.8,215.1,1.5,216.9,1.5,241.7,1.4,244.2,1.4,253.6,1.5,184,1.4,284.1,1.5,288.5,1.5,179.9,1.1,217.9,1.1,220.6,1.1,230.5,1.2,235.6,1.1,249.1,1.3,266,1.2,271.1,1.1,273,1.3,223.1,.9,229,.9,235.8,.9,275.3,.9,178.9,.7,206.8,.8,208.8,.9,251.7,.8,255.9,.8,282.8,.8,201.3,.6,219.7,.6,229.3,.6,239.8,.6,248.1,.6,296.2,.7,297.2,.6,185.8,.5,223.8,.5,260.5,.5,189.6,.4,193.1,.4,206,.4,214.5,.3,289.5,.3,292.6,.4,177.5,.2,262.1,.2,232.8,.2,226.1,.1,190,0,202.4,0,210.9,.1,246.5,0,274,.1];

// y values of the collocation points along each interface (columns read as nearly solid)
const interfaceY=[0,.1,.35,.5,.7,.95,1.1,1.3,1.55,1.7,1.95,2.1,2.3,2.5,2.75,2.9,3.1,3.3,3.5,3.7,3.85,4.1,4.3,4.45,4.7,4.9,5.05,5.3,5.5,5.65,5.9,6.1,6.25,6.5,6.7,6.9,7.05,7.3,7.5,7.7,7.85,8.1,8.3,8.5,8.65,8.9,9.1,9.3,9.45,9.7,9.85,10];
const xTicks=[0,100,200,300];
const xTickLabels=["t0=0","0.1","0.2","tf=0.3"];
const yTicks=[0,5,10];

const triUp={draw(c,size){const r=Math.sqrt(size/Math.PI);c.moveTo(0,-r);c.lineTo(r,r);c.lineTo(-r,r);c.closePath();}};
const pts=a=>d3.range(0,a.length,2).map(i=>[a[i],a[i+1]]);
const layer=(color,{dots,top=[],bottom=[],left=[],iface=[]})=>{
  const f=colors[color];
  return [
    Plot.dot(iface.flatMap(t=>interfaceY.map(y=>[t,y])),{x:"0",y:"1",symbol:"times",r:4.6,stroke:f,strokeWidth:2.5}),
    Plot.dot([...top.map(t=>[t,10]),...bottom.map(t=>[t,0]),...left.map(y=>[0,y])],{x:"0",y:"1",symbol:triUp,r:6.3,fill:f}),
    Plot.dot(pts(dots),{x:"0",y:"1",r:3.4,fill:f})
  ];
};
const panels=[
 {top:120,layers:[["black",{dots:p1Black,top:p1BlackTop,bottom:p1BlackBottom,iface:[200]}],
                  ["orange",{dots:p1Orange,top:p1OrangeTop,bottom:p1OrangeBottom,iface:[125,250]}],
                  ["blue",{dots:p1Blue,top:p1BlueTop,bottom:p1BlueBottom,iface:[50,175]}],
                  ["green",{dots:p1Green,top:p1GreenTop,bottom:p1GreenBottom,left:p1GreenLeft,iface:[100]}]]},
 {top:386,layers:[["orange",{dots:p2Orange,top:p2OrangeTop,bottom:p2OrangeBottom,iface:[175]}],
                  ["blue",{dots:p2Blue,top:p2BlueTop,bottom:p2BlueBottom,iface:[75,225]}],
                  ["green",{dots:p2Green,top:p2GreenTop,bottom:p2GreenBottom,left:p2GreenLeft,iface:[125]}]]},
 {top:653,labels:true,layers:[["blue",{dots:p3Blue,top:p3BlueTop,bottom:p3BlueBottom,iface:[125]}],
                  ["green",{dots:p3Green,top:p3GreenTop,bottom:p3GreenBottom,left:p3GreenLeft,iface:[175]}]]}
];
const fig=document.getElementById("fig");
for(const p of panels){
  const pad=20;
  const svg=Plot.plot({
    width:2056,height:pad+222+70,marginTop:pad,marginBottom:70,marginLeft:114,marginRight:391,
    style:{background:"transparent",fontFamily:"DejaVu Sans",overflow:"visible"},
    x:{domain:[-50,350]},y:{domain:[-1.02,10.3]},
    marks:[
      ...p.layers.flatMap(([c,o])=>layer(c,o)),
      Plot.axisX({ticks:xTicks,tickSize:10,tickPadding:11,fontSize:27.8,label:null,strokeWidth:2.2,fill:"black",
        tickFormat:p.labels?(d=>xTickLabels[xTicks.indexOf(d)]):()=>""}),
      Plot.axisY({ticks:yTicks,tickSize:10,tickPadding:10,fontSize:27.8,label:null,strokeWidth:2.2,fill:"black"}),
      Plot.frame({stroke:"black",strokeWidth:2.2})
    ]
  });
  svg.classList.add("panel");
  svg.style.top=(p.top-pad)+"px";
  svg.querySelectorAll("text").forEach(t=>{
    const s=t.textContent;
    const sub=(c,rest)=>`<tspan font-style="italic">t</tspan><tspan font-size="19.5" dy="5">${c}</tspan><tspan dy="-5">\u2005=\u2005${rest}</tspan>`;
    if(s==="t0=0")t.innerHTML=sub("0","0");
    if(s==="tf=0.3")t.innerHTML=sub('<tspan font-style="italic">f</tspan>',"0.3");
  });
  fig.appendChild(svg);
}
const add=(html,css)=>{const d=document.createElement("div");d.className="lbl";d.innerHTML=html;d.style.cssText+=css;fig.appendChild(d);return d;};
add("Sampled points for fine network training for various decompositions","left:864px;top:18px;font-size:33.4px;transform:translateX(-50%)");
add("Time (s)","left:888px;top:935px;transform:translateX(-50%)");
add("Length (mm)","left:33px;top:498px;transform:translate(-50%,-50%) rotate(-90deg)");
// legend
const legendRows=[["Boundary points","tri"],["Interface points","x"],["Interior points","dot"],["Ω<sub>4</sub>","black"],["Ω<sub>3</sub>","darkorange"],["Ω<sub>2</sub>","royalblue"],["Ω<sub>1</sub>","green"]];
const rowY=[365,408,450,493,537,580,623];
const lg=document.createElement("div");lg.id="legend";fig.appendChild(lg);
legendRows.forEach(([txt,k],i)=>{
  const y=rowY[i];
  add(txt,`left:1797px;top:${y-15}px;`);
  const s=document.createElementNS("http://www.w3.org/2000/svg","svg");
  s.setAttribute("width",60);s.setAttribute("height",24);
  s.style.cssText=`position:absolute;left:1717px;top:${y-12}px`;
  const cx=30,cy=12;
  if(k==="tri")s.innerHTML=`<path d="M${cx} ${cy-4.5}L${cx+4.5} ${cy+4.5}L${cx-4.5} ${cy+4.5}Z" fill="#808080"/>`;
  else if(k==="x")s.innerHTML=`<path d="M${cx-4} ${cy-4}L${cx+4} ${cy+4}M${cx+4} ${cy-4}L${cx-4} ${cy+4}" stroke="#808080" stroke-width="1.4"/>`;
  else if(k==="dot")s.innerHTML=`<circle cx="${cx}" cy="${cy}" r="5.3" fill="#808080"/>`;
  else s.innerHTML=`<rect x="2" y="2" width="54" height="19.5" fill="${k}"/>`;
  fig.appendChild(s);
});
</script></body></html>
